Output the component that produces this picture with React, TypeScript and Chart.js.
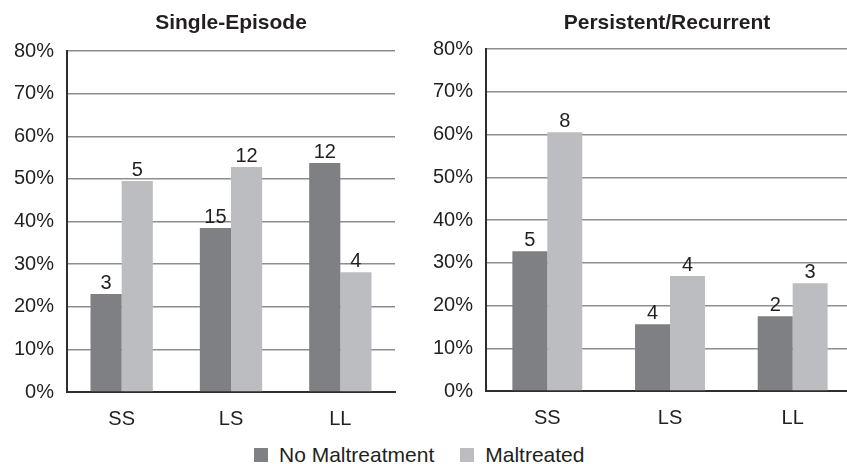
import React, { useEffect, useRef } from "react";
import { Chart, registerables } from "chart.js";

Chart.register(...registerables);

const categories = ["SS", "LS", "LL"];
const seriesNames = ["No Maltreatment", "Maltreated"];
const seriesColors = ["#7f8084", "#bcbdc0"];

const singleNoMal = [23.0, 38.5, 53.7];
const singleMal = [49.5, 52.8, 28.1];
const singleNoMalN = [3, 15, 12];
const singleMalN = [5, 12, 4];

const persNoMal = [32.7, 15.6, 17.5];
const persMal = [60.5, 26.9, 25.2];
const persNoMalN = [5, 4, 2];
const persMalN = [8, 4, 3];

const yMin = 0;
const yMax = 80;
const yStep = 10;

const FONT = "'Liberation Sans', Arial, Helvetica, sans-serif";
const TEXT = "#231f20";

type PanelProps = {
  title: string;
  noMal: number[];
  mal: number[];
  noMalN: number[];
  malN: number[];
  width: number;
  height: number;
  axisWidth: number;
  padTop: number;
  padRight: number;
  xAxisHeight: number;
  titleShift: number;
};

function Panel(p: PanelProps) {
  const ref = useRef<HTMLCanvasElement | null>(null);
  useEffect(() => {
    if (!ref.current) return;
    const counts = [p.noMalN, p.malN];
    const labelPlugin = {
      id: "countLabels",
      afterDatasetsDraw(chart: any) {
        const ctx = chart.ctx;
        ctx.save();
        ctx.font = `20px ${FONT}`;
        ctx.fillStyle = TEXT;
        ctx.textAlign = "center";
        ctx.textBaseline = "alphabetic";
        chart.data.datasets.forEach((_ds: any, di: number) => {
          const meta = chart.getDatasetMeta(di);
          meta.data.forEach((bar: any, i: number) => {
            ctx.fillText(String(counts[di][i]), bar.x, bar.y - 5);
          });
        });
        ctx.restore();
      },
    };
    const titlePlugin = {
      id: "panelTitle",
      afterDraw(chart: any) {
        const ctx = chart.ctx;
        const a = chart.chartArea;
        ctx.save();
        ctx.font = `bold 21px ${FONT}`;
        ctx.fillStyle = TEXT;
        ctx.textAlign = "center";
        ctx.textBaseline = "middle";
        ctx.fillText(p.title, (a.left + a.right) / 2 + p.titleShift, 23);
        ctx.restore();
      },
    };
    const chart = new Chart(ref.current, {
      type: "bar",
      data: {
        labels: categories,
        datasets: [
          {
            label: seriesNames[0],
            data: p.noMal,
            backgroundColor: seriesColors[0],
            categoryPercentage: 0.57,
            barPercentage: 1.0,
          },
          {
            label: seriesNames[1],
            data: p.mal,
            backgroundColor: seriesColors[1],
            categoryPercentage: 0.57,
            barPercentage: 1.0,
          },
        ],
      },
      options: {
        responsive: false,
        animation: false,
        layout: {
          padding: { top: p.padTop, right: p.padRight, left: 0, bottom: 0 },
        },
        plugins: {
          legend: { display: false },
          title: { display: false },
          tooltip: { enabled: false },
        },
        scales: {
          x: {
            grid: { display: false, drawTicks: false },
            border: { display: true, color: "#2e2e2e", width: 2 },
            ticks: {
              color: TEXT,
              font: { family: FONT, size: 20 },
              padding: 15,
            },
            afterFit(scale: any) {
              scale.height = p.xAxisHeight;
            },
          },
          y: {
            min: yMin,
            max: yMax,
            grid: { color: "#8e8e8e", lineWidth: 1.5, drawTicks: false },
            border: { display: true, color: "#2e2e2e", width: 2 },
            ticks: {
              stepSize: yStep,
              color: TEXT,
              font: { family: FONT, size: 20 },
              padding: 13,
              callback: (v: any) => `${v}%`,
            },
            afterFit(scale: any) {
              scale.width = p.axisWidth;
            },
          },
        },
      },
      plugins: [labelPlugin, titlePlugin],
    });
    return () => chart.destroy();
  }, []);
  return <canvas ref={ref} width={p.width} height={p.height} style={{ display: "block" }} />;
}

export default function App() {
  return (
    <div
      style={{
        position: "absolute",
        left: 0,
        top: 0,
        width: 847,
        height: 464,
        overflow: "hidden",
        background: "#fff",
        fontFamily: FONT,
      }}
    >
      <div style={{ position: "absolute", left: 0, top: 0 }}>
        <Panel
          title="Single-Episode"
          noMal={singleNoMal}
          mal={singleMal}
          noMalN={singleNoMalN}
          malN={singleMalN}
          width={420}
          height={440}
          axisWidth={67}
          padTop={51}
          padRight={25}
          xAxisHeight={48}
          titleShift={0}
        />
      </div>
      <div style={{ position: "absolute", left: 420, top: 0 }}>
        <Panel
          title="Persistent/Recurrent"
          noMal={persNoMal}
          mal={persMal}
          noMalN={persNoMalN}
          malN={persMalN}
          width={440}
          height={440}
          axisWidth={66}
          padTop={49}
          padRight={6}
          xAxisHeight={49}
          titleShift={-3}
        />
      </div>
      <div
        style={{
          position: "absolute",
          left: 254,
          top: 443,
          display: "flex",
          alignItems: "center",
          fontSize: 21,
          lineHeight: "24px",
          color: TEXT,
        }}
      >
        {seriesNames.map((n, i) => (
          <div key={n} style={{ display: "flex", alignItems: "center", marginRight: 26 }}>
            <span
              style={{
                display: "inline-block",
                width: 14,
                height: 14,
                background: seriesColors[i],
                marginRight: 11,
              }}
            />
            <span>{n}</span>
          </div>
        ))}
      </div>
    </div>
  );
}
